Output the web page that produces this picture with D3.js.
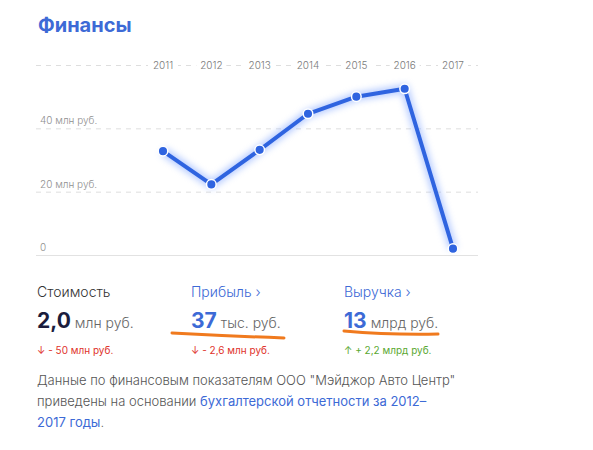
<!DOCTYPE html>
<html><head><meta charset="utf-8">
<script src="https://cdn.jsdelivr.net/npm/d3@7"></script>
<style>
body{margin:0;background:#fff;}
svg{display:block;font-family:Inter,"Open Sans",sans-serif;}
</style></head>
<body><svg id="c" width="593" height="450"></svg>
<script>
const years = ["2011","2012","2013","2014","2015","2016","2017"];
const values = [32.8, 22.3, 33.2, 44.6, 50.0, 52.5, 2.0];
const yTicks = [0, 20, 40, 60];
const yTickLabels = ["0", "20 млн руб.", "40 млн руб.", ""];

const svg = d3.select("#c");
const x = d3.scalePoint().domain(years).range([163, 453]);
const y = d3.scaleLinear().domain([0, 60]).range([255, 65]);
const gridX0 = 36, gridX1 = 478;
const blue = "#2f64e0";

// title
svg.append("text").attr("x", 38).attr("y", 31.5).attr("font-size", 20).attr("font-weight", 700)
  .attr("fill", "#3d6ad6").text("Финансы");

// grid
const g = svg.append("g");
g.selectAll("line.grid").data(yTicks.filter(d => d > 0)).enter().append("line")
  .attr("x1", gridX0).attr("x2", gridX1).attr("y1", d => y(d) + 0.5).attr("y2", d => y(d) + 0.5)
  .attr("stroke", "#dedede").attr("stroke-dasharray", "5,5");
g.append("line").attr("x1", gridX0).attr("x2", gridX1).attr("y1", y(0) + 0.5).attr("y2", y(0) + 0.5)
  .attr("stroke", "#e2e2e2");
g.selectAll("text.yl").data(yTicks).enter().append("text")
  .attr("x", 40).attr("y", d => y(d) - 4).attr("font-size", 10).attr("font-weight", 300).attr("fill", "#8f8f8f")
  .text((d, i) => yTickLabels[i]);

// year labels with white background
const yl = g.selectAll("g.yr").data(years).enter().append("g")
  .attr("transform", d => `translate(${x(d)},${y(60)})`);
yl.append("rect").attr("x", -15).attr("y", -6).attr("width", 30).attr("height", 12).attr("fill", "#fff");
yl.append("text").attr("text-anchor", "middle").attr("dy", "0.35em").attr("font-size", 10).attr("font-weight", 300)
  .attr("fill", "#7a7a7a").text(d => d);

// glow filter
const defs = svg.append("defs");
const f = defs.append("filter").attr("id", "glow").attr("x", "-20%").attr("y", "-20%").attr("width", "140%").attr("height", "140%");
f.append("feGaussianBlur").attr("stdDeviation", 3.5);

const data = years.map((yr, i) => ({yr, v: values[i]}));
const line = d3.line().x(d => x(d.yr)).y(d => y(d.v));
svg.append("path").datum(data).attr("d", line).attr("fill", "none")
  .attr("stroke", "#7fa4ff").attr("stroke-width", 8).attr("opacity", 0.6).attr("filter", "url(#glow)");
svg.append("path").datum(data).attr("d", line).attr("fill", "none")
  .attr("stroke", blue).attr("stroke-width", 4).attr("stroke-linejoin", "round");
svg.selectAll("circle.pt").data(data).enter().append("circle")
  .attr("cx", d => x(d.yr)).attr("cy", d => y(d.v)).attr("r", 4.8)
  .attr("fill", blue).attr("stroke", "#fff").attr("stroke-width", 1.5);

// metrics
const metrics = [
  {x: 37, title: "Стоимость", tcol: "#333", big: "2,0", bcol: "#1b1d3d", unit: "млн руб.", delta: "↓ - 50 млн руб.", dcol: "#e0332c"},
  {x: 191, title: "Прибыль  ›", tcol: "#3d6ad6", big: "37", bcol: "#3d6ad6", unit: "тыс. руб.", delta: "↓ - 2,6 млн руб.", dcol: "#e0332c"},
  {x: 344, title: "Выручка  ›", tcol: "#3d6ad6", big: "13", bcol: "#3d6ad6", unit: "млрд руб.", delta: "↑ + 2,2 млрд руб.", dcol: "#5aa832"}
];
metrics.forEach(m => {
  svg.append("text").attr("x", m.x).attr("y", 297).attr("font-size", 14).attr("font-weight", 300).attr("fill", m.tcol).text(m.title);
  const t = svg.append("text").attr("x", m.x).attr("y", 328);
  t.append("tspan").attr("font-size", 21).attr("font-weight", 700).attr("fill", m.bcol).text(m.big);
  t.append("tspan").attr("font-size", 14).attr("font-weight", 300).attr("fill", "#666").attr("dx", 4).text(m.unit);
  svg.append("text").attr("x", m.x).attr("y", 354).attr("font-size", 10).attr("fill", m.dcol).text(m.delta);
});

// orange underlines
const orange = "#f07a1e";
svg.append("path").attr("d", "M172,333 Q228,336 284,338").attr("fill", "none").attr("stroke", orange)
  .attr("stroke-width", 3).attr("stroke-linecap", "round");
svg.append("path").attr("d", "M344,331 Q390,335 438,334").attr("fill", "none").attr("stroke", orange)
  .attr("stroke-width", 3).attr("stroke-linecap", "round");

// paragraph
const pcol = "#555", lcol = "#3d6ad6";
const p1 = svg.append("text").attr("x", 37).attr("y", 385).attr("font-size", 13).attr("font-weight", 300).attr("fill", pcol)
  .text('Данные по финансовым показателям ООО "Мэйджор Авто Центр"');
const p2 = svg.append("text").attr("x", 37).attr("y", 406).attr("font-size", 13).attr("font-weight", 300).attr("fill", pcol);
p2.append("tspan").text("приведены на основании ");
p2.append("tspan").attr("fill", lcol).attr("font-weight", 400).text("бухгалтерской отчетности за 2012–");
const p3 = svg.append("text").attr("x", 37).attr("y", 427).attr("font-size", 13).attr("font-weight", 300).attr("fill", pcol);
p3.append("tspan").attr("fill", lcol).attr("font-weight", 400).text("2017 годы");
p3.append("tspan").text(".");
</script></body></html>
